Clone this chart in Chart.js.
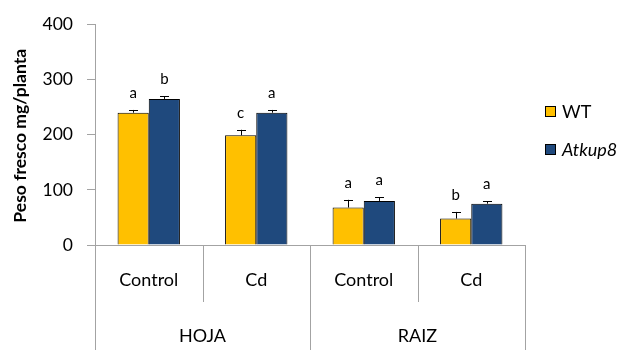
<!DOCTYPE html>
<html>
<head>
<meta charset="utf-8">
<script src="https://cdn.jsdelivr.net/npm/chart.js@4"></script>
<style>
  body { margin: 0; background: #fff; }
  canvas { display: block; }
</style>
</head>
<body>
<canvas id="grafico" width="622" height="350"></canvas>
<script>
// datos
const grupos = ['HOJA', 'RAIZ']
const tratamientos = ['Control', 'Cd', 'Control', 'Cd']
const series = ['WT', 'Atkup8']
const wt = [240, 199, 68, 48]
const wtErr = [5, 10, 14, 12]
const atkup8 = [265, 240, 80, 75]
const atkup8Err = [5, 5, 7, 4]
const letrasWT = ['a', 'c', 'a', 'b']
const letrasAtkup8 = ['b', 'a', 'a', 'a']

const FUENTE = 'Lato, "Open Sans", sans-serif'
const GRIS = '#a3a3a3'
const colores = ['#FFC000', '#1F497D']

// dibuja errores, letras, eje x de dos niveles, leyenda y titulo del eje y
const extras = {
  id: 'extras',
  afterDatasetsDraw(chart) {
    const ctx = chart.ctx
    const x = chart.scales.x
    const y = chart.scales.y
    const area = chart.chartArea
    const errores = [wtErr, atkup8Err]
    const letras = [letrasWT, letrasAtkup8]

    ctx.save()
    chart.data.datasets.forEach((ds, d) => {
      const meta = chart.getDatasetMeta(d)
      meta.data.forEach((bar, i) => {
        const arriba = y.getPixelForValue(ds.data[i] + errores[d][i])
        ctx.strokeStyle = '#000'
        ctx.lineWidth = 1
        ctx.beginPath()
        ctx.moveTo(Math.round(bar.x) + 0.5, bar.y)
        ctx.lineTo(Math.round(bar.x) + 0.5, arriba)
        ctx.moveTo(Math.round(bar.x) - 4, Math.round(arriba) + 0.5)
        ctx.lineTo(Math.round(bar.x) + 5, Math.round(arriba) + 0.5)
        ctx.stroke()

        ctx.fillStyle = '#000'
        ctx.font = '15px ' + FUENTE
        ctx.textAlign = 'center'
        ctx.textBaseline = 'alphabetic'
        ctx.fillText(letras[d][i], bar.x, arriba - 12)
      })
    })

    // eje x con categorias
    const ancho = (area.right - area.left) / tratamientos.length
    ctx.strokeStyle = GRIS
    ctx.lineWidth = 1
    ctx.beginPath()
    ctx.moveTo(area.left - 8, area.bottom + 0.5)
    ctx.lineTo(area.right, area.bottom + 0.5)
    for (let i = 0; i <= tratamientos.length; i++) {
      const px = Math.round(area.left + i * ancho) + 0.5
      const largo = (i % 2 === 0) ? chart.height : area.bottom + 57
      ctx.moveTo(px, area.bottom)
      ctx.lineTo(px, largo)
    }
    ctx.stroke()

    ctx.fillStyle = '#000'
    ctx.font = '18px ' + FUENTE
    ctx.textAlign = 'center'
    ctx.textBaseline = 'middle'
    tratamientos.forEach((t, i) => {
      ctx.fillText(t, x.getPixelForValue(i), area.bottom + 35)
    })
    grupos.forEach((g, i) => {
      const cx = (x.getPixelForValue(i * 2) + x.getPixelForValue(i * 2 + 1)) / 2
      ctx.fillText(g, cx, area.bottom + 91)
    })

    // leyenda
    ctx.textAlign = 'left'
    series.forEach((s, i) => {
      const ly = 112 + i * 38
      ctx.fillStyle = colores[i]
      ctx.fillRect(545, ly - 6, 11, 11)
      ctx.strokeStyle = '#000'
      ctx.strokeRect(545.5, ly - 5.5, 10, 10)
      ctx.fillStyle = '#000'
      ctx.font = (i === 1 ? 'italic ' : '') + '18px ' + FUENTE
      ctx.fillText(s, 562, ly)
    })

    // titulo eje y
    ctx.translate(20, (area.top + area.bottom) / 2 + 1)
    ctx.rotate(-Math.PI / 2)
    ctx.font = 'bold 17.5px ' + FUENTE
    ctx.textAlign = 'center'
    ctx.fillText('Peso fresco mg/planta', 0, 0)
    ctx.restore()
  }
}

new Chart(document.getElementById('grafico'), {
  type: 'bar',
  data: {
    labels: tratamientos,
    datasets: [
      { label: series[0], data: wt, backgroundColor: colores[0], borderColor: '#000', borderWidth: 1 },
      { label: series[1], data: atkup8, backgroundColor: colores[1], borderColor: '#000', borderWidth: 1 }
    ]
  },
  options: {
    responsive: false,
    animation: false,
    devicePixelRatio: 1,
    layout: { padding: { top: 24, right: 97, bottom: 105, left: 0 } },
    datasets: { bar: { categoryPercentage: 0.58, barPercentage: 1 } },
    plugins: { legend: { display: false }, tooltip: { enabled: false } },
    scales: {
      x: { display: false },
      y: {
        min: 0,
        max: 400,
        ticks: { stepSize: 100, color: '#000', padding: 14, font: { family: FUENTE, size: 17.5 } },
        grid: { drawOnChartArea: false, tickLength: 8, color: GRIS },
        border: { color: GRIS },
        afterFit(s) { s.width = 95 }
      }
    }
  },
  plugins: [extras]
})
</script>
</body>
</html>
